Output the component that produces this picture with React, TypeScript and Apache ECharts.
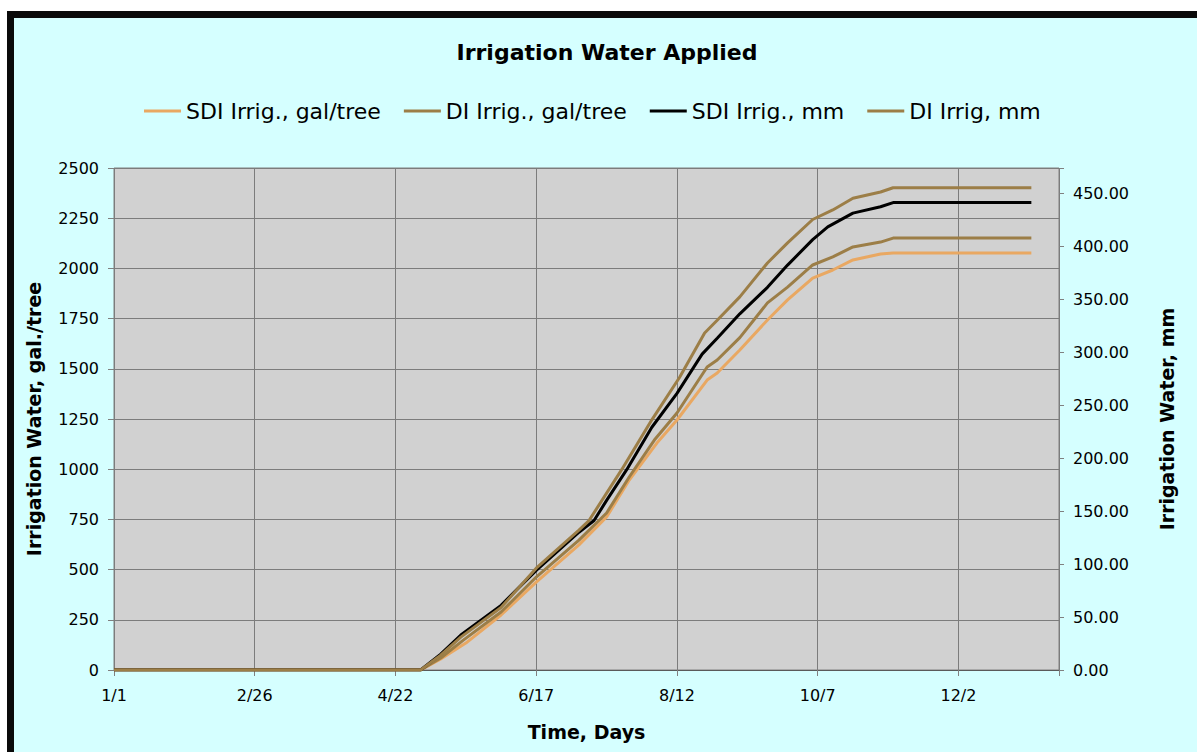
import React, { useEffect, useRef } from "react";
import * as echarts from "echarts";

// x axis: day index from Jan 1 (leap year)
const xTickDays = [0, 56, 112, 168, 224, 280, 336];
const xTickLabels = ["1/1", "2/26", "4/22", "6/17", "8/12", "10/7", "12/2"];

const seriesNames = ["SDI Irrig., gal/tree", "DI Irrig., gal/tree", "SDI Irrig., mm", "DI Irrig, mm"];

// SDI irrigation, gal/tree (left axis)
const sdiGalDays = [0, 122, 130, 140, 154, 168, 185, 196, 205, 216, 224, 236, 240, 249, 260, 268, 278, 286, 294, 305, 310, 365];
const sdiGalValues = [0, 0, 55, 134, 274, 438, 623, 762, 946, 1130, 1245, 1444, 1479, 1594, 1743, 1843, 1952, 1992, 2042, 2072, 2077, 2077];

// DI irrigation, gal/tree (left axis)
const diGalDays = [0, 122, 130, 139, 154, 168, 185, 196, 205, 215, 224, 236, 240, 249, 260, 268, 278, 286, 294, 305, 310, 365];
const diGalValues = [0, 0, 60, 149, 289, 463, 647, 782, 961, 1145, 1280, 1509, 1544, 1655, 1828, 1907, 2017, 2057, 2107, 2131, 2151, 2151];

// SDI irrigation, mm (right axis)
const sdiMmDays = [0, 122, 130, 138, 154, 168, 185, 191, 196, 204, 214, 224, 234, 240, 249, 260, 268, 278, 284, 294, 305, 310, 365];
const sdiMmValues = [0, 0, 15, 33, 61, 94, 130, 141, 160, 189, 229, 261, 298, 313, 336, 361, 382, 406, 418, 431, 437, 441, 441];

// DI irrigation, mm (right axis)
const diMmDays = [0, 122, 130, 138, 154, 168, 185, 189, 202, 214, 225, 235, 240, 249, 260, 268, 278, 286, 294, 305, 310, 365];
const diMmValues = [0, 0, 14, 31, 59, 96, 132, 141, 189, 236, 276, 318, 330, 352, 384, 403, 425, 434, 445, 451, 455, 455];

const colors = ["#E9A862", "#9C7E47", "#000000", "#9C7E47"];

const pairs = (d: number[], v: number[]) => d.map((x, i) => [x, v[i]]);

const FONT = "DejaVu Sans";

export default function App() {
  const ref = useRef<HTMLDivElement>(null);
  useEffect(() => {
    if (!ref.current) return;
    const chart = echarts.init(ref.current, null, { renderer: "svg" });
    const lineSeries = (name: string, data: number[][], color: string, yAxisIndex: number) => ({
      name,
      type: "line",
      data,
      yAxisIndex,
      showSymbol: false,
      symbol: "none",
      lineStyle: { color, width: 3 },
      itemStyle: { color },
    });
    chart.setOption({
      animation: false,
      backgroundColor: "transparent",
      textStyle: { fontFamily: FONT },
      graphic: [
        {
          type: "text",
          style: {
            x: 607,
            y: 52,
            text: "Irrigation Water Applied",
            align: "center",
            verticalAlign: "middle",
            font: `bold 22px '${FONT}'`,
            fill: "#000",
          },
        },
      ],
      legend: {
        left: 139,
        top: 95,
        icon: "rect",
        itemWidth: 37,
        itemHeight: 3,
        itemGap: 23,
        textStyle: { fontSize: 22, color: "#000", fontFamily: FONT, lineHeight: 22 },
        data: seriesNames,
      },
      grid: {
        left: 114,
        top: 168,
        right: 138,
        bottom: 82,
        show: true,
        backgroundColor: "#D1D1D1",
        borderColor: "#808080",
        borderWidth: 1,
      },
      xAxis: {
        type: "value",
        min: 0,
        max: 376,
        interval: 56,
        name: "Time, Days",
        nameLocation: "middle",
        nameGap: 52,
        nameTextStyle: { fontSize: 19, fontWeight: "bold", color: "#000", fontFamily: FONT },
        axisLine: { show: true, lineStyle: { color: "#5a5a5a", width: 1 } },
        axisTick: { show: true, length: 6, lineStyle: { color: "#808080" } },
        axisLabel: {
          fontSize: 16,
          color: "#000",
          margin: 17,
          fontFamily: FONT,
          formatter: (v: number) => {
            const i = xTickDays.indexOf(v);
            return i >= 0 ? xTickLabels[i] : "";
          },
        },
        splitLine: { show: true, lineStyle: { color: "#7c7c7c", width: 1 } },
      },
      yAxis: [
        {
          type: "value",
          min: 0,
          max: 2500,
          interval: 250,
          position: "left",
          name: "Irrigation Water, gal./tree",
          nameLocation: "middle",
          nameRotate: 90,
          nameGap: 71,
          nameTextStyle: { fontSize: 19, fontWeight: "bold", color: "#000", fontFamily: FONT },
          axisLine: { show: false },
          axisTick: { show: true, length: 6, lineStyle: { color: "#808080" } },
          axisLabel: {
            fontSize: 16,
            color: "#000",
            margin: 15,
            fontFamily: FONT,
            formatter: (v: number) => String(v),
          },
          splitLine: { show: true, lineStyle: { color: "#7c7c7c", width: 1 } },
        },
        {
          type: "value",
          min: 0,
          max: 473.6,
          interval: 50,
          position: "right",
          name: "Irrigation Water, mm",
          nameLocation: "middle",
          nameRotate: 90,
          nameGap: 98,
          nameTextStyle: { fontSize: 19, fontWeight: "bold", color: "#000", fontFamily: FONT },
          axisLine: { show: false },
          axisTick: { show: true, length: 5, lineStyle: { color: "#808080" } },
          axisLabel: {
            fontSize: 16,
            color: "#000",
            margin: 14,
            fontFamily: FONT,
            formatter: (v: number) => (Math.abs(v / 50 - Math.round(v / 50)) < 1e-6 ? v.toFixed(2) : ""),
          },
          splitLine: { show: false },
        },
      ],
      series: [
        lineSeries(seriesNames[0], pairs(sdiGalDays, sdiGalValues), colors[0], 0),
        lineSeries(seriesNames[1], pairs(diGalDays, diGalValues), colors[1], 0),
        lineSeries(seriesNames[2], pairs(sdiMmDays, sdiMmValues), colors[2], 1),
        lineSeries(seriesNames[3], pairs(diMmDays, diMmValues), colors[3], 1),
      ],
    });
    return () => chart.dispose();
  }, []);

  return (
    <div style={{ position: "fixed", left: 0, top: 0, width: 1197, height: 752, background: "#ffffff", overflow: "hidden" }}>
      <div style={{ position: "absolute", left: 7, top: 11, width: 1190, height: 741, background: "#0a0a0a" }} />
      <div style={{ position: "absolute", left: 14, top: 18, width: 1183, height: 734, background: "#D5FFFF" }} />
      <div ref={ref} style={{ position: "absolute", left: 0, top: 0, width: 1197, height: 752 }} />
    </div>
  );
}
